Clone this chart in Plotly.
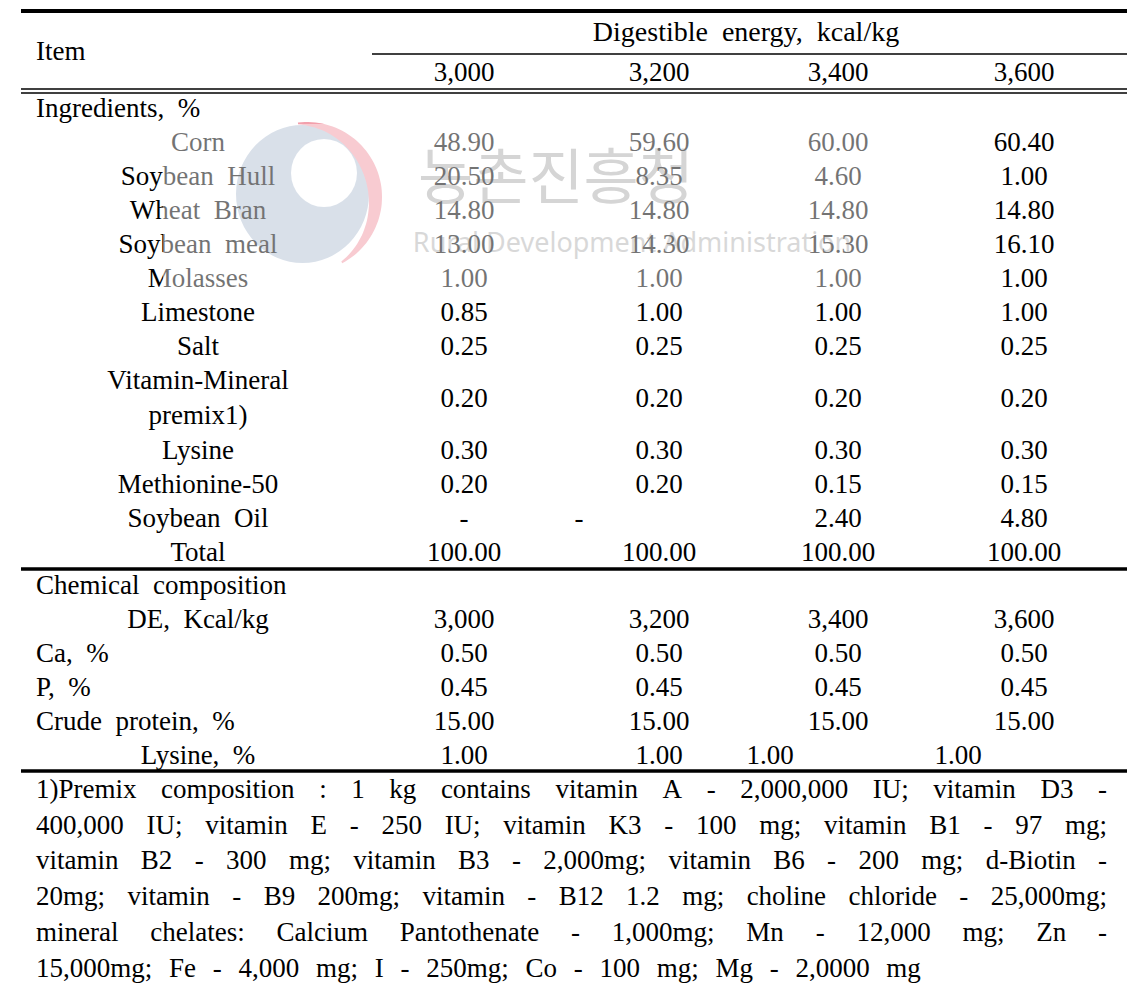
import numpy as np
import plotly.graph_objects as go

# ---- data -------------------------------------------------------------
de_levels = [3000, 3200, 3400, 3600]

ingredients = ["Corn", "Soybean Hull", "Wheat Bran", "Soybean meal", "Molasses",
               "Limestone", "Salt", "Vitamin-Mineral<br>premix1)", "Lysine",
               "Methionine-50", "Soybean Oil", "Total"]
ing_3000 = [48.90, 20.50, 14.80, 13.00, 1.00, 0.85, 0.25, 0.20, 0.30, 0.20, None, 100.00]
ing_3200 = [59.60, 8.35, 14.80, 14.30, 1.00, 1.00, 0.25, 0.20, 0.30, 0.20, None, 100.00]
ing_3400 = [60.00, 4.60, 14.80, 15.30, 1.00, 1.00, 0.25, 0.20, 0.30, 0.15, 2.40, 100.00]
ing_3600 = [60.40, 1.00, 14.80, 16.10, 1.00, 1.00, 0.25, 0.20, 0.30, 0.15, 4.80, 100.00]

chem_items = ["DE, Kcal/kg", "Ca, %", "P, %", "Crude protein, %", "Lysine, %"]
chem_3000 = [3000, 0.50, 0.45, 15.00, 1.00]
chem_3200 = [3200, 0.50, 0.45, 15.00, 1.00]
chem_3400 = [3400, 0.50, 0.45, 15.00, 1.00]
chem_3600 = [3600, 0.50, 0.45, 15.00, 1.00]

footnote = [
    "1)Premix composition : 1 kg contains vitamin A - 2,000,000 IU; vitamin D3 -",
    "400,000 IU; vitamin E - 250 IU; vitamin K3 - 100 mg; vitamin B1 - 97 mg;",
    "vitamin B2 - 300 mg; vitamin B3 - 2,000mg; vitamin B6 - 200 mg; d-Biotin -",
    "20mg; vitamin - B9 200mg; vitamin - B12 1.2 mg; choline chloride - 25,000mg;",
    "mineral chelates: Calcium Pantothenate - 1,000mg; Mn - 12,000 mg; Zn -",
    "15,000mg; Fe - 4,000 mg; I - 250mg; Co - 100 mg; Mg - 2,0000 mg",
]

# ---- layout settings ---------------------------------------------------
W, H = 1140, 1006
PAGE = 8  # default body margin of the html page
FONT = "Liberation Serif"
FS = 27
DY = 2  # small downward nudge for all table text
LEFT, RIGHT = 21, 1127
TXT_L = 36
label_cx = 198
col_cx = [464, 659, 838, 1024]
ROW = 34

# odd cell placements in the source table
cell_shift = {("Soybean Oil", 1): -80, ("Lysine, %", 2): -68, ("Lysine, %", 3): -66}
left_chem = {"Ca, %", "P, %", "Crude protein, %"}

TIMES = {" ": .25, "a": .444, "b": .5, "c": .444, "d": .5, "e": .444, "f": .333, "g": .5,
         "h": .5, "i": .278, "j": .278, "k": .5, "l": .278, "m": .778, "n": .5, "o": .5,
         "p": .5, "q": .5, "r": .333, "s": .389, "t": .278, "u": .5, "v": .5, "w": .722,
         "x": .5, "y": .5, "z": .444, "A": .722, "B": .667, "C": .667, "D": .722, "E": .611,
         "F": .556, "G": .722, "H": .722, "I": .333, "J": .389, "K": .722, "L": .611,
         "M": .889, "N": .722, "O": .722, "P": .556, "Q": .722, "R": .667, "S": .556,
         "T": .611, "U": .722, "V": .722, "W": .944, "X": .722, "Y": .722, "Z": .611,
         ",": .25, ".": .25, ":": .278, ";": .278, "-": .333, "(": .333, ")": .333,
         "%": .833, "/": .278}


def tw(s, size=FS):
    return sum(TIMES.get(c, .5) for c in s) * size


def sp(s):
    return s.replace(" ", "\u00a0\u00a0")


def fmt(v, de=False):
    if v is None:
        return "-"
    return f"{v:,.0f}" if de else f"{v:.2f}"


fig = go.Figure()


def add_text(xs, ys, texts, pos="middle center", size=FS, family=FONT, color="black", dy=DY):
    fig.add_trace(go.Scatter(x=xs, y=[v + dy for v in ys], text=texts, mode="text",
                             textposition=pos,
                             textfont=dict(family=family, size=size, color=color),
                             hoverinfo="skip", showlegend=False, cliponaxis=False))


# ---- watermark (under the table text) ----------------------------------
cx, cy = 307, 197
shapes = [dict(type="circle", xref="x", yref="y", x0=cx - 71, x1=cx + 62, y0=cy - 72, y1=cy + 66,
               fillcolor="rgb(186,199,216)", line_width=0, layer="below"),
          dict(type="circle", xref="x", yref="y", x0=cx - 16, x1=cx + 50, y0=cy - 58, y1=cy + 10,
               fillcolor="white", line_width=0, layer="below")]
th = np.linspace(np.radians(97), np.radians(-62), 60)
thick = 2 + 12 * np.sin(np.pi * (th - th[-1]) / (th[0] - th[-1]))
outer = [(cx + 75 * np.cos(t), cy - 75 * np.sin(t)) for t in th]
inner = [(cx + (75 - k) * np.cos(t), cy - (75 - k) * np.sin(t)) for t, k in zip(th[::-1], thick[::-1])]
path = "M " + " L ".join(f"{x:.1f},{y:.1f}" for x, y in outer + inner) + " Z"
shapes.append(dict(type="path", xref="x", yref="y", path=path,
                   fillcolor="rgb(242,160,172)", line_width=0, layer="below"))

add_text([556], [184], ["농촌진흥청"], size=60, family="Noto Sans CJK KR",
         color="rgb(178,178,178)", dy=0)
add_text([632], [245], ["Rural Development Administration"], size=27, family="Noto Sans",
         color="rgb(185,185,185)", dy=0)

# ---- header -------------------------------------------------------------
add_text([TXT_L], [51], ["Item"], pos="middle right")
add_text([746], [32], [sp("Digestible energy, kcal/kg")], size=28)
add_text(col_cx, [72] * 4, [f"{d:,}" for d in de_levels])

# ---- ingredient block ---------------------------------------------------
ing_cols = [ing_3000, ing_3200, ing_3400, ing_3600]
add_text([TXT_L], [108], [sp("Ingredients, %")], pos="middle right")
y = 108 + ROW / 2
row_y = []
for name in ingredients:
    h = 70 if "<br>" in name else ROW
    row_y.append(y + h / 2)
    y += h
add_text([label_cx] * len(ingredients), row_y, [sp(n) for n in ingredients])
for j, col in enumerate(ing_cols):
    xs = [col_cx[j] + cell_shift.get((n, j), 0) for n in ingredients]
    add_text(xs, row_y, [fmt(v) for v in col])
total_line = y

# ---- chemical composition ----------------------------------------------
chem_cols = [chem_3000, chem_3200, chem_3400, chem_3600]
y0 = 585
add_text([TXT_L], [y0], [sp("Chemical composition")], pos="middle right")
chem_y = [y0 + ROW * (i + 1) for i in range(len(chem_items))]
for name, yy in zip(chem_items, chem_y):
    if name in left_chem:
        add_text([TXT_L], [yy], [sp(name)], pos="middle right")
    else:
        add_text([label_cx], [yy], [sp(name)])
for j, col in enumerate(chem_cols):
    xs = [col_cx[j] + cell_shift.get((n, j), 0) for n in chem_items]
    add_text(xs, chem_y, [fmt(v, de=(i == 0)) for i, v in enumerate(col)])
bottom_line = chem_y[-1] + 16

# ---- footnote (justified) ------------------------------------------------
FN_R = 1107
fx, fy, ft = [], [], []
for i, line in enumerate(footnote):
    words = line.split(" ")
    widths = [tw(w) for w in words]
    if i < len(footnote) - 1:
        gap = (FN_R - TXT_L - sum(widths)) / (len(words) - 1)
    else:
        gap = 0.62 * FS
    x = TXT_L
    for w, wd in zip(words, widths):
        fx.append(x)
        fy.append(790 + 35.8 * i)
        ft.append(w)
        x += wd + gap
add_text(fx, fy, ft, pos="middle right", dy=1)

# ---- rules --------------------------------------------------------------
def hline(yy, x0=LEFT, x1=RIGHT, w=1.5):
    shapes.append(dict(type="line", xref="x", yref="y", x0=x0, x1=x1, y0=yy, y1=yy,
                       line=dict(color="black", width=w), layer="above"))


hline(11, w=4)
hline(54, x0=372, w=1.5)
hline(89, w=1.5)
hline(93, w=1.5)
hline(total_line, w=3.5)
hline(bottom_line, w=3.5)

# watermark fade over the text
shapes.append(dict(type="rect", xref="x", yref="y", x0=163, x1=905, y0=124, y1=291,
                   fillcolor="white", opacity=0.45, line_width=0, layer="above"))

# the page adds an 8px body margin, so map the axes back onto page pixels
fig.update_layout(
    width=W - PAGE, height=H - PAGE, margin=dict(l=0, r=0, t=0, b=0),
    paper_bgcolor="white", plot_bgcolor="white", shapes=shapes,
    xaxis=dict(range=[PAGE, W], visible=False, fixedrange=True),
    yaxis=dict(range=[H, PAGE], visible=False, fixedrange=True),
)
fig.write_html("out.html")
